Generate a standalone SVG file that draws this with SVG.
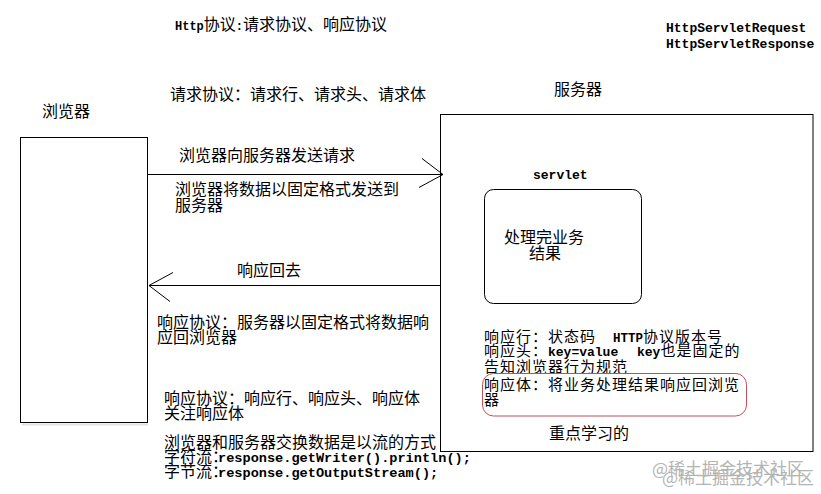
<svg xmlns="http://www.w3.org/2000/svg" width="821" height="494" viewBox="0 0 821 494">
<style>
.cjk{font-family:"Noto Sans CJK SC","Liberation Sans",sans-serif;font-size:16px;fill:#000}
.tight{font-size:15px;letter-spacing:1px}
.mono{font-family:"Liberation Mono","DejaVu Sans Mono",monospace;font-weight:bold;fill:#000;letter-spacing:0}
.box{fill:#fff;stroke:#000;stroke-width:1}
.conn{stroke:#000;stroke-width:1;fill:none}
.wm{font-family:"Noto Sans CJK SC",sans-serif;font-size:17px;fill:#b4b4b4}
</style>
<defs>
<marker id="open" markerUnits="userSpaceOnUse" viewBox="-26 -17 30 34" refX="0" refY="0" markerWidth="30" markerHeight="34" orient="auto">
<path d="M-21,-16 L0,0 L-24,13" fill="none" stroke="#000" stroke-width="1"/>
</marker>
</defs>
<rect width="821" height="494" fill="#fff"/>

<g id="title">
<text x="175" y="30" class="cjk"><tspan class="mono" font-size="12">Http</tspan>协议<tspan class="mono" font-size="12">:</tspan>请求协议、响应协议</text>
<text x="170" y="100" class="cjk">请求协议：请求行、请求头、请求体</text>
<text x="666" y="32" class="mono" font-size="13">HttpServletRequest</text>
<text x="666" y="48" class="mono" font-size="13">HttpServletResponse</text>
</g>

<g id="browser">
<text x="42" y="117" class="cjk">浏览器</text>
<line x1="22" y1="424.5" x2="148" y2="424.5" stroke="#e2e2e2" stroke-width="2"/>
<rect x="20.5" y="137.5" width="127" height="285" class="box"/>
</g>

<g id="server">
<text x="554" y="95" class="cjk">服务器</text>
<rect x="440.5" y="114.5" width="372.5" height="337" class="box"/>
<text x="484" y="342" class="cjk tight">响应行：状态码<tspan x="613" class="mono" font-size="12.5">HTTP</tspan>协议版本号</text>
<text x="484" y="356" class="cjk tight">响应头：<tspan x="548" class="mono" font-size="13">key=value</tspan><tspan x="637" class="mono" font-size="13">key</tspan>也是固定的</text>
<text x="484" y="372" class="cjk tight">告知浏览器行为规范</text>
<text x="484" y="390" class="cjk tight">响应体：将业务处理结果响应回浏览</text>
<text x="484" y="405" class="cjk tight">器</text>
<rect x="482.5" y="373.5" width="264" height="42.5" rx="11" fill="none" stroke="#c0505c" stroke-width="1"/>
<text x="549" y="439" class="cjk">重点学习的</text>
</g>

<g id="servlet">
<text x="533" y="179" class="mono" font-size="13">servlet</text>
<rect x="484.5" y="189.5" width="157" height="114" rx="9" class="box"/>
<text x="504" y="243" class="cjk">处理完业务</text>
<text x="529" y="259" class="cjk">结果</text>
</g>

<g id="connectors">
<line x1="148" y1="174.5" x2="443" y2="174.5" class="conn" marker-end="url(#open)"/>
<line x1="440" y1="285.5" x2="149" y2="285.5" class="conn" marker-end="url(#open)"/>
</g>

<g id="labels">
<text x="179" y="161" class="cjk" font-size="15">浏览器向服务器发送请求</text>
<text x="175" y="195" class="cjk">浏览器将数据以固定格式发送到</text>
<text x="175" y="211" class="cjk">服务器</text>
<text x="237" y="276" class="cjk">响应回去</text>
<text x="157" y="328" class="cjk">响应协议：服务器以固定格式将数据响</text>
<text x="157" y="343" class="cjk">应回浏览器</text>
<text x="164" y="404" class="cjk">响应协议：响应行、响应头、响应体</text>
<text x="164" y="419" class="cjk">关注响应体</text>
<text x="164" y="448" class="cjk">浏览器和服务器交换数据是以流的方式</text>
<text x="164" y="462" class="cjk" font-size="14">字符流：</text>
<text x="218" y="462" class="mono" font-size="13.6">response.getWriter().println();</text>
<text x="164" y="477" class="cjk" font-size="14">字节流：</text>
<text x="218" y="477" class="mono" font-size="13.6">response.getOutputStream();</text>
</g>

<g id="watermark">
<text x="652" y="475" class="wm">@稀土掘金技术社区</text>
<text x="662" y="484" class="wm">@稀土掘金技术社区</text>
</g>
</svg>
